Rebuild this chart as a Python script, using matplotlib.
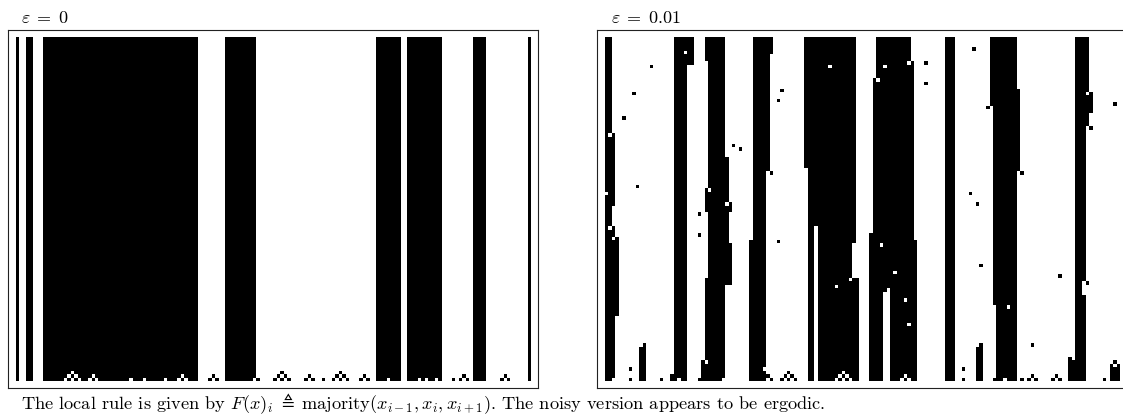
import numpy as np
import matplotlib
matplotlib.use("Agg")
import matplotlib.pyplot as plt

plt.rcParams['font.family'] = 'serif'
plt.rcParams['font.serif'] = ['cmr10']
plt.rcParams['mathtext.fontset'] = 'cm'
plt.rcParams['axes.unicode_minus'] = False

N_ROWS = 100
N_COLS = 150

# eps = 0: black column runs once the rule has settled
left_stripes = [(0, 1), (3, 5), (8, 53), (61, 70), (105, 112), (114, 124),
                (133, 137), (149, 150)]
# cells that differ from the settled stripes in the first steps (bottom rows)
left_flips_row97 = [16, 77, 94]
left_flips_row98 = [15, 17, 22, 48, 57, 76, 78, 85, 93, 95, 101, 130, 142]
left_flips_row99 = [14, 16, 18, 21, 23, 33, 37, 43, 47, 49, 56, 58, 69, 70,
                    75, 77, 79, 84, 86, 89, 92, 94, 96, 100, 102, 108, 117,
                    119, 122, 127, 129, 131, 141, 143]

# eps = 0.01: black blocks (row_start, row_end, col_start, col_end)
right_blocks = [
    # stripe A
    (0, 28, 0, 2), (28, 49, 0, 3), (49, 55, 0, 2), (55, 58, 0, 3),
    (58, 81, 0, 4), (81, 99, 0, 3), (99, 100, 0, 2),
    (89, 100, 11, 12), (90, 100, 10, 11),
    # stripe B
    (0, 8, 20, 26), (8, 100, 20, 24),
    # stripe C
    (0, 7, 29, 35), (7, 35, 30, 35), (35, 44, 30, 36), (44, 48, 29, 36),
    (48, 51, 29, 37), (51, 60, 30, 36), (60, 70, 30, 37), (70, 72, 29, 37),
    (72, 94, 29, 35), (94, 100, 28, 35),
    # stripe D
    (0, 5, 43, 49), (5, 39, 43, 48), (39, 59, 43, 47), (59, 100, 42, 47),
    # stripe E
    (0, 38, 58, 73), (38, 55, 59, 73), (55, 100, 59, 61), (55, 60, 62, 73),
    (60, 70, 62, 72), (70, 100, 62, 74),
    # stripe F
    (0, 7, 79, 89), (7, 12, 79, 90), (12, 57, 78, 90), (57, 59, 77, 90),
    (59, 74, 77, 91), (74, 100, 77, 81), (74, 100, 83, 91),
    # stripe G
    (0, 100, 99, 102),
    (90, 100, 108, 109), (89, 100, 109, 110),
    # stripe H
    (0, 15, 112, 120), (15, 20, 112, 121), (20, 39, 113, 121),
    (39, 78, 113, 120), (78, 100, 114, 120),
    # stripe I
    (0, 16, 137, 141), (16, 22, 137, 142), (22, 26, 137, 141),
    (26, 71, 137, 140), (71, 75, 137, 139), (75, 93, 137, 140),
    (93, 100, 135, 140),
    (95, 100, 147, 150),
]
right_black_cells = [
    (8, 13), (16, 8), (23, 5), (43, 9), (96, 7), (99, 7), (99, 16),
    (98, 19), (99, 19), (99, 27), (51, 27), (57, 27), (31, 37), (32, 39),
    (39, 48), (15, 51), (18, 50), (59, 50), (98, 47), (99, 48),
    (97, 53), (98, 52), (98, 54), (99, 51), (99, 53), (99, 55),
    (3, 107), (7, 93), (13, 93), (45, 106), (48, 108), (66, 109), (96, 104),
    (99, 104), (89, 124), (69, 132), (71, 140), (19, 148), (26, 141),
    (20, 111), (39, 121), (99, 113), (99, 121),
    (98, 124), (99, 123), (99, 125), (98, 131), (99, 130), (99, 132),
    (99, 145), (94, 148),
]
right_white_cells = [
    (28, 1), (45, 0), (55, 1), (58, 2), (4, 23), (99, 21),
    (44, 30), (48, 35), (94, 29), (99, 34), (96, 46),
    (8, 65), (70, 71), (72, 67),
    (97, 69), (98, 68), (98, 70), (99, 67), (99, 69), (99, 71),
    (8, 81), (7, 88), (12, 79), (60, 80), (68, 84), (76, 87), (83, 88),
    (73, 82), (98, 87), (99, 86), (99, 88),
    (78, 117), (99, 116), (16, 140), (93, 136), (95, 148),
]

titles = [r'$\varepsilon\;=\;0$', r'$\varepsilon\;=\;0.01$']
caption = (r'The local rule is given by $F(x)_i\;\triangleq\;'
           r'\mathrm{majority}(x_{i-1}, x_i, x_{i+1})$. '
           r'The noisy version appears to be ergodic.')


def build_left():
    grid = np.zeros((N_ROWS, N_COLS), dtype=int)
    for c0, c1 in left_stripes:
        grid[:, c0:c1] = 1
    for row, cols in [(97, left_flips_row97), (98, left_flips_row98),
                      (99, left_flips_row99)]:
        grid[row, cols] ^= 1
    return grid


def build_right():
    grid = np.zeros((N_ROWS, N_COLS), dtype=int)
    for r0, r1, c0, c1 in right_blocks:
        grid[r0:r1, c0:c1] = 1
    for r, c in right_black_cells:
        grid[r, c] = 1
    for r, c in right_white_cells:
        grid[r, c] = 0
    return grid


def draw_panel(fig, rect, grid, title, title_x):
    ax = fig.add_axes(rect)
    ax.imshow(grid, cmap='gray_r', vmin=0, vmax=1, interpolation='nearest',
              aspect='auto', extent=(0, N_COLS, N_ROWS, 0))
    ax.set_xlim(-2.3, N_COLS + 2.3)
    ax.set_ylim(N_ROWS + 2.23, -2.23)
    ax.set_xticks([])
    ax.set_yticks([])
    for sp in ax.spines.values():
        sp.set_linewidth(0.8)
        sp.set_color('#222222')
    fig.text(title_x, 1 - 23 / 417, title, fontsize=13, va='baseline')
    return ax


def main():
    fig = plt.figure(figsize=(11.23, 4.17), dpi=100)
    W, H = 1123, 417
    bottom = (H - 388.3) / H
    height = (388.3 - 30) / H
    width = 530.3 / W
    draw_panel(fig, [8 / W, bottom, width, height], build_left(), titles[0], 21 / W)
    draw_panel(fig, [597.3 / W, bottom, width, height], build_right(), titles[1], 611 / W)
    fig.text(21 / W, 1 - 409 / H, caption, fontsize=13.2, va='baseline')
    fig.savefig('out.png', dpi=100)
    plt.close(fig)


if __name__ == "__main__":
    main()
